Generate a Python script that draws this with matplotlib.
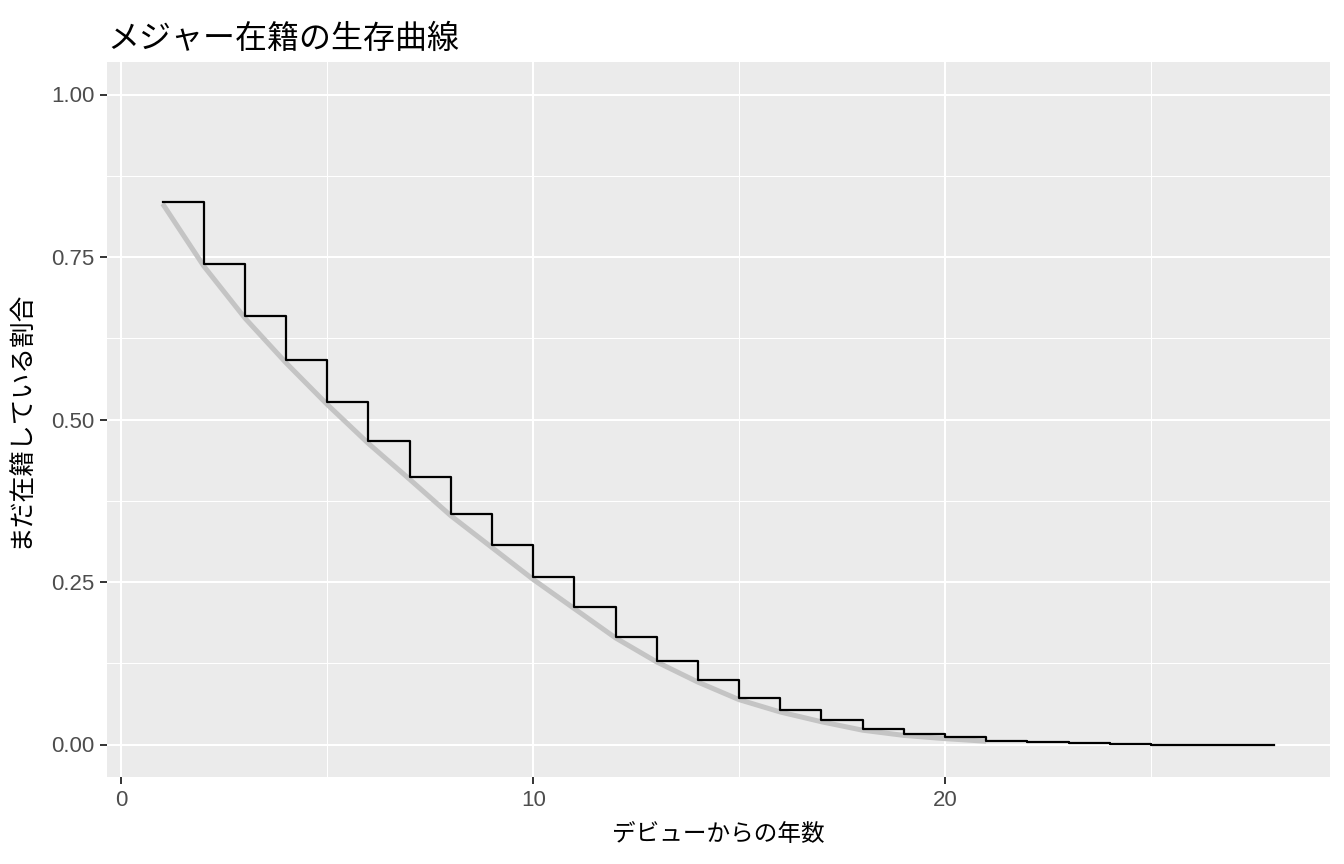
import matplotlib
matplotlib.use("Agg")
import matplotlib.pyplot as plt
from matplotlib.ticker import MultipleLocator

years = list(range(1, 29))
survival = [0.834, 0.739, 0.660, 0.591, 0.527, 0.467, 0.412, 0.355, 0.307, 0.257,
            0.212, 0.166, 0.129, 0.099, 0.071, 0.053, 0.037, 0.024, 0.016, 0.011,
            0.006, 0.0045, 0.003, 0.0015, 0.0, 0.0, 0.0, 0.0]
smooth_years = list(range(1, 22))
smooth_vals = [0.832, 0.736, 0.656, 0.587, 0.523, 0.463, 0.408, 0.352, 0.303, 0.254,
               0.209, 0.164, 0.127, 0.096, 0.069, 0.050, 0.035, 0.022, 0.014, 0.009, 0.005]

title = "メジャー在籍の生存曲線"
xlabel = "デビューからの年数"
ylabel = "まだ在籍している割合"
xticks = [0, 10, 20]
yticks = [0.0, 0.25, 0.5, 0.75, 1.0]
ytick_labels = ["0.00", "0.25", "0.50", "0.75", "1.00"]

jp = ["Noto Sans CJK JP", "DejaVu Sans"]

fig = plt.figure(figsize=(13.44, 8.64), dpi=100)
ax = fig.add_axes([107/1344, 1-777/864, (1330-107)/1344, (777-62)/864])
ax.set_facecolor("#EBEBEB")
for s in ax.spines.values():
    s.set_visible(False)

ax.plot(smooth_years, smooth_vals, color="#C4C4C4", lw=3.6, solid_capstyle="butt", zorder=3)
ax.step(years, survival, where="post", color="black", lw=1.6, zorder=4)

ax.set_xlim(1 - 0.05*27, 28 + 0.05*27)
ax.set_ylim(-0.05, 1.05)
ax.set_xticks(xticks)
ax.set_yticks(yticks)
ax.set_yticklabels(ytick_labels)
ax.xaxis.set_minor_locator(MultipleLocator(5))
ax.yaxis.set_minor_locator(MultipleLocator(0.125))
ax.grid(which="major", color="white", lw=1.5, zorder=0)
ax.grid(which="minor", color="white", lw=0.75, zorder=0)
ax.set_axisbelow(True)
ax.tick_params(which="major", length=5, width=1.4, color="#333333",
               labelsize=16, labelcolor="#4D4D4D", pad=4)
ax.tick_params(which="minor", length=0)
for lab in ax.get_xticklabels() + ax.get_yticklabels():
    lab.set_fontfamily(["Liberation Sans", "DejaVu Sans"])

ax.set_xlabel(xlabel, fontsize=17, family=jp, labelpad=9)
ax.set_ylabel(ylabel, fontsize=18.5, family=jp, labelpad=12)
ax.set_title(title, loc="left", fontsize=23, family=jp, pad=10)

fig.savefig("out.png", dpi=100)
